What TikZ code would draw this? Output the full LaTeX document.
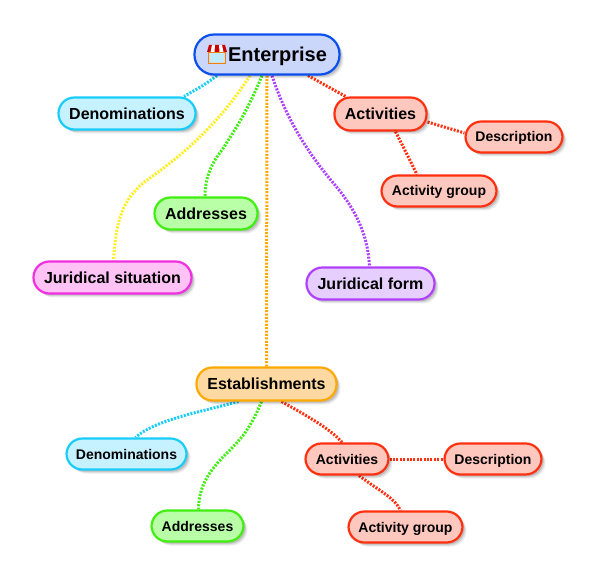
\documentclass[tikz,border=0pt]{standalone}
\usepackage{fontspec}
\setmainfont{Liberation Sans}
\usetikzlibrary{backgrounds}
\definecolor{cblue}{HTML}{0A50F0}\definecolor{fblue}{HTML}{CAD7FB}
\definecolor{ccyan}{HTML}{19CDFB}\definecolor{fcyan}{HTML}{C6F1FF}
\definecolor{cred}{HTML}{FF3010}\definecolor{fred}{HTML}{FFC8BE}
\definecolor{cgreen}{HTML}{40EE10}\definecolor{fgreen}{HTML}{B8FFA8}
\definecolor{cpink}{HTML}{F030E0}\definecolor{fpink}{HTML}{FFC2F5}
\definecolor{cpurp}{HTML}{B040FF}\definecolor{fpurp}{HTML}{E6CFFF}
\definecolor{corange}{HTML}{FFA800}\definecolor{forange}{HTML}{FFD9A2}
\definecolor{cyellow}{HTML}{FFEE20}
\tikzset{
  mapbox/.style={draw=#1, line width=2.2pt, rounded corners=15.9pt, inner sep=0pt, font=\bfseries, text=black, align=center,
    preaction={draw=none, fill=black, fill opacity=.07, transform canvas={xshift=4pt,yshift=-4pt}},
    preaction={draw=none, fill=black, fill opacity=.09, transform canvas={xshift=3pt,yshift=-3pt}},
    preaction={draw=none, fill=black, fill opacity=.12, transform canvas={xshift=2pt,yshift=-2pt}}},
  big/.style={font=\bfseries\fontsize{20}{24}\selectfont, text height=14.4pt, text depth=0pt},
  mid/.style={font=\bfseries\fontsize{16}{19}\selectfont, text height=11.5pt, text depth=0pt},
  small/.style={font=\bfseries\fontsize{14}{17}\selectfont, text height=10pt, text depth=0pt},
  link/.style={draw=#1, line width=3pt, dash pattern=on 2pt off 1.4pt},
}
\begin{document}
\begin{tikzpicture}[x=1pt,y=-1pt]
\useasboundingbox (0,0) rectangle (597,577);
\node[mapbox=cblue, fill=fblue, big, minimum width=145pt, minimum height=40pt, rounded corners=19.5pt] (ent) at (267,54.5) {\hspace{21pt}Enterprise};
\node[mapbox=ccyan, fill=fcyan, mid, minimum width=137pt, minimum height=32pt] (den) at (127,113.5) {Denominations};
\node[mapbox=cred, fill=fred, mid, minimum width=92pt, minimum height=33pt] (act) at (380.5,114) {Activities};
\node[mapbox=cred, fill=fred, small, minimum width=97pt, minimum height=31pt] (des) at (514,137) {Description};
\node[mapbox=cred, fill=fred, small, minimum width=115pt, minimum height=31pt] (grp) at (439,191) {Activity group};
\node[mapbox=cgreen, fill=fgreen, mid, minimum width=103pt, minimum height=32pt] (adr) at (206,213.5) {Addresses};
\node[mapbox=cpink, fill=fpink, mid, minimum width=158pt, minimum height=32pt] (sit) at (112.5,277.5) {Juridical situation};
\node[mapbox=cpurp, fill=fpurp, mid, minimum width=128pt, minimum height=32pt] (frm) at (370.5,283.5) {Juridical form};
\node[mapbox=corange, fill=forange, mid, minimum width=140pt, minimum height=33pt] (est) at (266.5,384) {Establishments};
\node[mapbox=ccyan, fill=fcyan, small, minimum width=120pt, minimum height=31pt] (den2) at (126.5,454) {Denominations};
\node[mapbox=cred, fill=fred, small, minimum width=83pt, minimum height=31pt] (act2) at (347,459) {Activities};
\node[mapbox=cred, fill=fred, small, minimum width=97pt, minimum height=31pt] (des2) at (493,459) {Description};
\node[mapbox=cgreen, fill=fgreen, small, minimum width=92pt, minimum height=31pt] (adr2) at (197.5,526) {Addresses};
\node[mapbox=cred, fill=fred, small, minimum width=114pt, minimum height=31pt] (grp2) at (405.5,527) {Activity group};
% storefront icon
\fill[white!85!black] (208,52) rectangle (226,64);
\fill[cyan!25] (210,53) rectangle (224,62);
\draw[orange!70!brown, line width=.8pt] (208.5,52) rectangle (225.5,63.5);
\fill[red!80!black] (209,45) -- (225,45) -- (227,52) -- (207,52) -- cycle;
\fill[white] (212,45) -- (215,45) -- (214.5,52) -- (210.5,52) -- cycle;
\fill[white] (219,45) -- (222,45) -- (223.5,52) -- (219.5,52) -- cycle;
\begin{pgfonlayer}{background}
\draw[link=ccyan] ([xshift=-50pt]ent.south) .. controls (205,85) and (195,90) .. ([xshift=57pt]den.north);
\draw[link=cred] ([xshift=41pt]ent.south) -- ([xshift=-35pt]act.north);
\draw[link=cred] ([yshift=-8pt]act.east) -- ([yshift=4pt]des.west);
\draw[link=cred] ([xshift=15pt]act.south) -- ([xshift=-22pt]grp.north);
\draw[link=cyellow] ([xshift=-17pt]ent.south) .. controls (215,130) and (175,160) .. (150,178) .. controls (120,198) and (116,225) .. ([xshift=1pt]sit.north);
\draw[link=cgreen] ([xshift=-5pt]ent.south) .. controls (248,110) and (235,130) .. (222,150) .. controls (210,165) and (205,180) .. ([xshift=-1pt]adr.north);
\draw[link=corange] (ent.south) -- (est.north);
\draw[link=cpurp] ([xshift=5pt]ent.south) .. controls (285,115) and (305,150) .. (335,185) .. controls (360,215) and (368,240) .. ([xshift=-1pt]frm.north);
\draw[link=ccyan] ([xshift=-28pt]est.south) .. controls (200,412) and (155,420) .. ([xshift=9pt]den2.north);
\draw[link=cgreen] ([xshift=-5pt]est.south) .. controls (250,430) and (240,440) .. (225,455) .. controls (205,475) and (199,490) .. ([xshift=1pt]adr2.north);
\draw[link=cred] ([xshift=15pt]est.south) .. controls (300,412) and (330,428) .. ([xshift=-5pt]act2.north);
\draw[link=cred] (act2.east) -- (des2.west);
\draw[link=cred] ([xshift=12pt]act2.south) .. controls (378,490) and (395,498) .. ([xshift=-5pt]grp2.north);
\end{pgfonlayer}
\end{tikzpicture}
\end{document}
